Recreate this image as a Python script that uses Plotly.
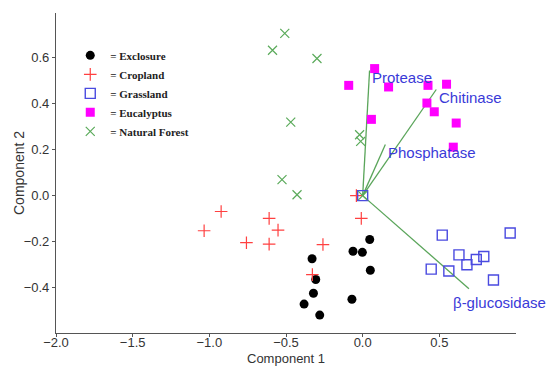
import plotly.graph_objects as go

# ---- data ----
exclosure_x = [-0.330, -0.306, -0.321, -0.382, -0.280, -0.063, -0.002, 0.046, 0.050, -0.070]
exclosure_y = [-0.275, -0.365, -0.425, -0.472, -0.520, -0.242, -0.247, -0.191, -0.325, -0.451]

cropland_x = [-0.923, -1.034, -0.758, -0.610, -0.552, -0.610, -0.259, -0.328, -0.009, -0.041]
cropland_y = [-0.069, -0.153, -0.205, -0.099, -0.150, -0.211, -0.213, -0.344, -0.099, 0.000]

grassland_x = [0.519, 0.962, 0.628, 0.790, 0.741, 0.680, 0.447, 0.562, 0.853, 0.000]
grassland_y = [-0.172, -0.163, -0.258, -0.265, -0.278, -0.301, -0.320, -0.328, -0.367, 0.000]

eucalyptus_x = [0.078, -0.091, 0.169, 0.426, 0.547, 0.419, 0.467, 0.610, 0.057, 0.591]
eucalyptus_y = [0.553, 0.480, 0.473, 0.480, 0.485, 0.403, 0.365, 0.316, 0.332, 0.211]

forest_x = [-0.508, -0.588, -0.298, -0.469, -0.020, -0.013, -0.526, -0.428, 0.000]
forest_y = [0.706, 0.633, 0.597, 0.320, 0.265, 0.236, 0.070, 0.004, 0.000]

enzymes = ["Protease", "Chitinase", "Phosphatase", "β-glucosidase"]
loading_x = [0.045, 0.480, 0.148, 0.693]
loading_y = [0.545, 0.462, 0.223, -0.405]

x_ticks = [-2.0, -1.5, -1.0, -0.5, 0.0, 0.5]
y_ticks = [-0.4, -0.2, 0.0, 0.2, 0.4, 0.6]
x_title = "Component 1"
y_title = "Component 2"

# label placement (layout only)
label_pos = [(0.059, 0.515), (0.495, 0.428), (0.163, 0.188), (0.586, -0.467)]

fig = go.Figure()

# loading vectors
vx, vy = [], []
for ex, ey in zip(loading_x, loading_y):
    vx += [0, ex, None]
    vy += [0, ey, None]
fig.add_trace(go.Scatter(x=vx, y=vy, mode="lines", line=dict(color="#5aa55a", width=1.3),
                         showlegend=False, hoverinfo="skip"))

groups = [
    ("= Exclosure", exclosure_x, exclosure_y, dict(symbol="circle", size=9, color="black")),
    ("= Cropland", cropland_x, cropland_y, dict(symbol="cross-thin", size=9, color="#ff4040",
                                                line=dict(color="#ff4040", width=1.2))),
    ("= Grassland", grassland_x, grassland_y, dict(symbol="square-open", size=10, color="#4a4ae0",
                                                   line=dict(color="#4a4ae0", width=1.4))),
    ("= Eucalyptus", eucalyptus_x, eucalyptus_y, dict(symbol="square", size=9, color="#ff00ff")),
    ("= Natural Forest", forest_x, forest_y, dict(symbol="x-thin", size=9, color="#5aaa5a",
                                                  line=dict(color="#5aaa5a", width=1.2))),
]
for name, xs, ys, mk in groups:
    fig.add_trace(go.Scatter(x=xs, y=ys, mode="markers", name=name, marker=mk, cliponaxis=False))

annotations = []
for lab, (lx, ly) in zip(enzymes, label_pos):
    annotations.append(dict(x=lx, y=ly, text=lab, showarrow=False, xanchor="left", yanchor="middle",
                            xshift=-2,
                            font=dict(family="Arial, Liberation Sans", size=15, color="#3a3ad8")))
# axis titles
annotations.append(dict(x=0.5, y=0, xref="paper", yref="paper", text=x_title, showarrow=False,
                        xanchor="center", yanchor="middle", yshift=-25,
                        font=dict(family="Arial, Liberation Sans", size=13, color="#333333")))
annotations.append(dict(x=0, y=0.5, xref="paper", yref="paper", text=y_title, showarrow=False,
                        xanchor="center", yanchor="middle", xshift=-37, textangle=-90,
                        font=dict(family="Arial, Liberation Sans", size=14, color="#333333")))

fig.update_layout(
    width=556, height=366,
    margin=dict(l=56, r=40, t=13, b=33),
    plot_bgcolor="white", paper_bgcolor="white",
    font=dict(family="Arial, Liberation Sans", color="#333333"),
    annotations=annotations,
    legend=dict(x=0.031, y=0.913, xanchor="left", yanchor="top", bgcolor="rgba(0,0,0,0)",
                font=dict(family="Liberation Serif, Times New Roman", size=11, color="#222222",
                          weight="bold"),
                itemwidth=30, tracegroupgap=0),
    xaxis=dict(range=[-2.0, 1.0], tickvals=x_ticks, tickformat=".1f", showgrid=False, zeroline=False,
               automargin=False, ticklabelstandoff=-6,
               showline=True, linecolor="#555555", linewidth=1.2, ticks="outside", ticklen=3,
               tickcolor="#555555", tickfont=dict(size=13, color="#333333")),
    yaxis=dict(range=[-0.598, 0.795], tickvals=y_ticks, tickformat=".1f", showgrid=False, zeroline=False,
               automargin=False,
               showline=True, linecolor="#555555", linewidth=1.2, ticks="outside", ticklen=3,
               tickcolor="#555555", tickfont=dict(size=13, color="#333333")),
)

fig.write_html("out.html", config={"displayModeBar": False},
               post_script="document.body.style.margin='0';document.body.style.overflow='hidden';")
